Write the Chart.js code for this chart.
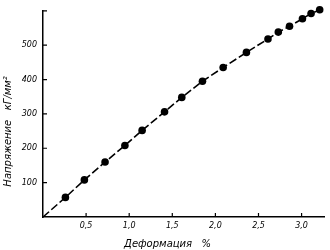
<!DOCTYPE html>
<html><head><meta charset="utf-8">
<script src="https://cdn.jsdelivr.net/npm/chart.js@4"></script>
<style>html,body{margin:0;padding:0;background:#fff}#c{display:block}</style>
</head><body>
<canvas id="c" width="330" height="250"></canvas>
<script>
const strain = [0, 0.26, 0.48, 0.72, 0.95, 1.15, 1.41, 1.61, 1.85, 2.09, 2.36, 2.61, 2.73, 2.86, 3.01, 3.11, 3.21];
const stress = [0, 57, 108, 160, 208, 252, 306, 348, 395, 435, 479, 518, 538, 555, 577, 592, 603];
const xTicks = [0.5, 1.0, 1.5, 2.0, 2.5, 3.0];
const yTicks = [100, 200, 300, 400, 500];
const xTitle = 'Деформация   %';
const yTitle = 'Напряжение   кГ/мм²';

const pad = n => '\u00A0'.repeat(n);
const pts = strain.map((x, i) => ({x, y: stress[i]}));
const radii = strain.map((x, i) => i === 0 ? 0 : 3.8);

const innerTicks = {
  id: 'innerTicks',
  afterDraw(chart) {
    const {ctx, chartArea: a, scales: {x, y}} = chart;
    ctx.save();
    ctx.strokeStyle = '#000';
    ctx.lineWidth = 1.2;
    ctx.beginPath();
    xTicks.forEach(v => { const px = x.getPixelForValue(v); ctx.moveTo(px, a.bottom); ctx.lineTo(px, a.bottom - 4); });
    yTicks.concat([600]).forEach(v => { const py = y.getPixelForValue(v); ctx.moveTo(a.left, py); ctx.lineTo(a.left + 4, py); });
    ctx.stroke();
    ctx.restore();
  }
};

const tickFont = {family: 'DejaVu Sans', size: 8, style: 'italic'};
const titleFont = {family: 'DejaVu Sans', size: 10, style: 'italic'};

new Chart(document.getElementById('c'), {
  type: 'scatter',
  data: { datasets: [{
    data: pts,
    showLine: true,
    borderColor: '#000',
    borderWidth: 1.6,
    borderDash: [8, 3],
    backgroundColor: '#000',
    pointBackgroundColor: '#000',
    pointBorderWidth: 0,
    pointRadius: radii,
    clip: false
  }]},
  options: {
    responsive: false,
    animation: false,
    devicePixelRatio: 1,
    layout: { padding: {top: 5, right: 6, left: 0, bottom: 0} },
    plugins: { legend: {display: false}, tooltip: {enabled: false} },
    scales: {
      x: {
        type: 'linear', min: 0, max: 3.26,
        afterFit(s) { s.height = 33; },
        afterBuildTicks(s) { s.ticks = xTicks.map(v => ({value: v})); },
        grid: {display: false, drawTicks: false},
        border: {display: true, color: '#000', width: 1.5},
        ticks: { color: '#000', font: tickFont, padding: 4, maxRotation: 0,
          callback: v => v.toFixed(1).replace('.', ',') },
        title: { display: true, text: xTitle + pad(10), color: '#000', font: titleFont, padding: {top: 2, bottom: 0} }
      },
      y: {
        type: 'linear', min: 0, max: 600,
        afterFit(s) { s.width = 43; },
        afterBuildTicks(s) { s.ticks = yTicks.map(v => ({value: v})); },
        grid: {display: false, drawTicks: false},
        border: {display: true, color: '#000', width: 1.5},
        ticks: { color: '#000', font: tickFont, padding: 6 },
        title: { display: true, text: yTitle + pad(11), color: '#000', font: titleFont, padding: {top: 2, bottom: 0} }
      }
    }
  },
  plugins: [innerTicks]
});
</script>
</body></html>
